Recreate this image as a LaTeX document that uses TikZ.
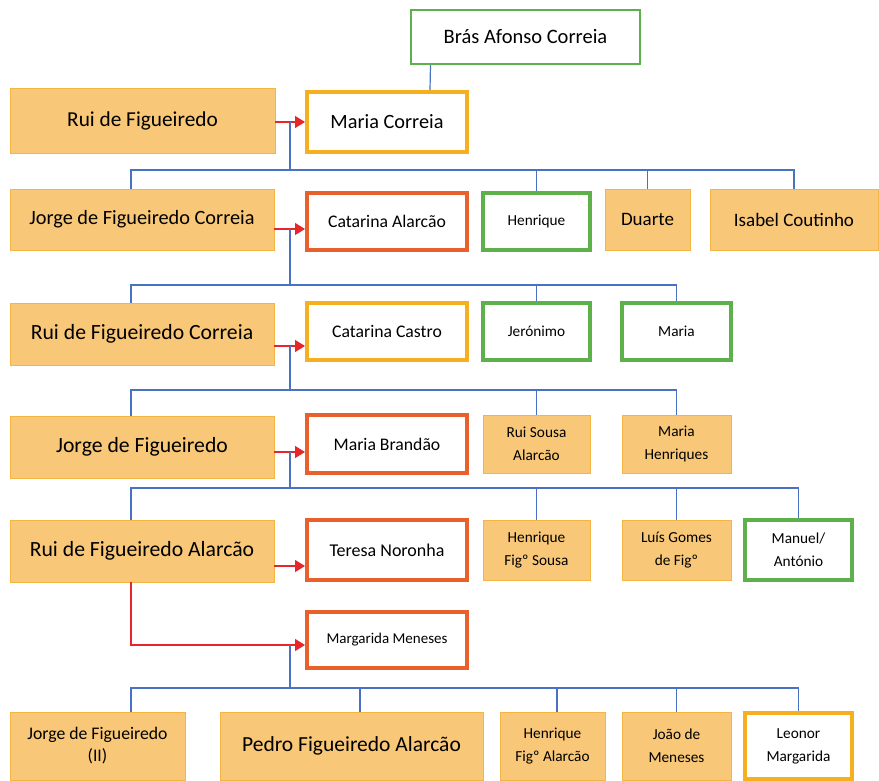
\documentclass[tikz,border=0pt]{standalone}
\usepackage{fontspec}
\setmainfont{Carlito}
\usetikzlibrary{arrows.meta,positioning}
\definecolor{boxorange}{HTML}{F8C777}
\definecolor{edgeorange}{HTML}{F4B545}
\definecolor{lineorange}{HTML}{F6AF1E}
\definecolor{linered}{HTML}{E8612C}
\definecolor{linegreen}{HTML}{5DB04A}
\definecolor{tieblue}{HTML}{4A72C2}
\definecolor{arrred}{HTML}{E5262A}

\begin{document}
\begin{tikzpicture}[x=1pt, y=-1pt,
  box/.style={inner sep=0pt, align=center, text=black},
  fam/.style={box, fill=boxorange, draw=edgeorange, line width=0.8pt},
  orl/.style={box, fill=white, draw=lineorange, line width=4pt},
  redl/.style={box, fill=white, draw=linered, line width=4pt},
  grnl/.style={box, fill=white, draw=linegreen, line width=4pt},
  big/.style={font=\fontsize{21.7}{26}\selectfont},
  mid/.style={font=\fontsize{17.7}{22}\selectfont},
  sml/.style={font=\fontsize{15.3}{23}\selectfont},
  tie/.style={tieblue, line width=1.2pt},
  wed/.style={arrred, line width=1.3pt, -{Triangle[length=10pt,width=12pt]}},
]
  \useasboundingbox (0,0) rectangle (879,780);
  \coordinate (lcol) at (131,0);

  % generation 0 and 1
  \node[box, draw=linegreen, line width=2pt, minimum width=229pt, minimum height=54pt, font=\fontsize{20.5}{24}\selectfont] (bras) at (525.5,37) {Brás Afonso Correia};
  \node[fam, font=\fontsize{21.3}{26}\selectfont, minimum width=265pt, minimum height=65pt] (rui1) at (142.5,120.5) {Rui de Figueiredo};
  \node[orl, minimum width=160pt, minimum height=60pt, font=\fontsize{20.3}{24}\selectfont] (mcorreia) at (387,122) {Maria Correia};

  % generation 2
  \node[fam, minimum width=264pt, minimum height=61pt, font=\fontsize{20.3}{24}\selectfont] (jorge1) at (142,219.5) {Jorge de Figueiredo Correia};
  \node[redl, mid, minimum width=160pt, minimum height=57pt] (calarcao) at (387,221.5) {Catarina Alarcão};
  \node[grnl, sml, minimum width=107pt, minimum height=57pt] (henrique1) at (536.5,221.5) {Henrique};
  \node[fam, font=\fontsize{19}{22}\selectfont, minimum width=85pt, minimum height=61pt] (duarte) at (647.5,219.5) {Duarte};
  \node[fam, font=\fontsize{19}{22}\selectfont, minimum width=168pt, minimum height=61pt] (isabel) at (794,219.5) {Isabel Coutinho};

  % generation 3
  \node[fam, big, minimum width=264pt, minimum height=62pt] (rui2) at (142,334) {Rui de Figueiredo Correia};
  \node[orl, mid, minimum width=160pt, minimum height=57pt] (ccastro) at (387,331.5) {Catarina Castro};
  \node[grnl, sml, minimum width=107pt, minimum height=57pt] (jeronimo) at (536.5,331.5) {Jerónimo};
  \node[grnl, sml, minimum width=109pt, minimum height=57pt] (maria1) at (676.5,331.5) {Maria};

  % generation 4
  \node[fam, big, minimum width=264pt, minimum height=62pt] (jorge2) at (142,447) {Jorge de Figueiredo};
  \node[redl, mid, minimum width=160pt, minimum height=58pt] (mbrandao) at (387,444) {Maria Brandão};
  \node[fam, sml, minimum width=107pt, minimum height=58pt] (ruisousa) at (536.5,444) {Rui Sousa\\Alarcão};
  \node[fam, sml, minimum width=109pt, minimum height=58pt] (mhenriques) at (676.5,444) {Maria\\Henriques};

  % generation 5
  \node[fam, big, minimum width=264pt, minimum height=62pt] (rui3) at (142,551) {Rui de Figueiredo Alarcão};
  \node[redl, font=\fontsize{18}{22}\selectfont, minimum width=160pt, minimum height=60pt] (teresa) at (387,550) {Teresa Noronha};
  \node[fam, sml, minimum width=107pt, minimum height=60pt] (henrique2) at (536.5,550) {Henrique\\Figº Sousa};
  \node[fam, sml, minimum width=109pt, minimum height=60pt] (luis) at (676.5,550) {Luís Gomes\\de Figº};
  \node[grnl, sml, minimum width=107pt, minimum height=60pt] (manuel) at (798.5,550) {Manuel/\\António};
  \node[redl, font=\fontsize{15}{18}\selectfont, minimum width=160pt, minimum height=56pt] (margarida) at (387,640) {Margarida Meneses};

  % generation 6
  \node[fam, mid, minimum width=175pt, minimum height=68pt] (jorge3) at (97.5,746) {Jorge de Figueiredo\\(II)};
  \node[fam, font=\fontsize{21.5}{26}\selectfont, minimum width=263pt, minimum height=68pt] (pedro) at (351.5,746) {Pedro Figueiredo Alarcão};
  \node[fam, sml, minimum width=105pt, minimum height=68pt] (henrique3) at (552.5,746) {Henrique\\Figº Alarcão};
  \node[fam, sml, minimum width=109pt, minimum height=68pt] (joao) at (676.5,746) {João de\\Meneses};
  \node[orl, sml, minimum width=107pt, minimum height=66pt] (leonor) at (798.5,746) {Leonor\\Margarida};

  % marriages and lines of descent
  \draw[tie] ([xshift=-95pt]bras.south) -- ([xshift=43pt]mcorreia.north);

  \coordinate (m1) at (290,122);
  \coordinate (bus1) at (290,170);
  \draw[wed] (rui1.east |- m1) -- (mcorreia.west |- m1);
  \draw[tie] (m1) -- (bus1);
  \draw[tie] (bus1) -| (jorge1.north -| lcol);
  \foreach \c in {henrique1,duarte,isabel}
    \draw[tie] (bus1) -| (\c.north);

  \coordinate (m2) at (290,229);
  \coordinate (bus2) at (290,285);
  \draw[wed] (jorge1.east |- m2) -- (calarcao.west |- m2);
  \draw[tie] (m2) -- (bus2);
  \draw[tie] (bus2) -| (rui2.north -| lcol);
  \foreach \c in {jeronimo,maria1}
    \draw[tie] (bus2) -| (\c.north);

  \coordinate (m3) at (290,346);
  \coordinate (bus3) at (290,390);
  \draw[wed] (rui2.east |- m3) -- (ccastro.west |- m3);
  \draw[tie] (m3) -- (bus3);
  \draw[tie] (bus3) -| (jorge2.north -| lcol);
  \foreach \c in {ruisousa,mhenriques}
    \draw[tie] (bus3) -| (\c.north);

  \coordinate (m4) at (290,452);
  \coordinate (bus4) at (290,488);
  \draw[wed] (jorge2.east |- m4) -- (mbrandao.west |- m4);
  \draw[tie] (m4) -- (bus4);
  \draw[tie] (bus4) -| (rui3.north -| lcol);
  \foreach \c in {henrique2,luis,manuel}
    \draw[tie] (bus4) -| (\c.north);

  \coordinate (m5) at (290,566);
  \draw[wed] (rui3.east |- m5) -- (teresa.west |- m5);

  \coordinate (m6) at (290,645);
  \coordinate (bus6) at (290,688);
  \draw[wed] (rui3.south -| lcol) |- (margarida.west |- m6);
  \draw[tie] (m6) -- (bus6);
  \draw[tie] (bus6) -| (jorge3.north -| lcol);
  \draw[tie] (bus6) -| ([xshift=8.5pt]pedro.north);
  \draw[tie] (bus6) -| ([xshift=4.5pt]henrique3.north);
  \foreach \c in {joao,leonor}
    \draw[tie] (bus6) -| (\c.north);
\end{tikzpicture}
\end{document}
